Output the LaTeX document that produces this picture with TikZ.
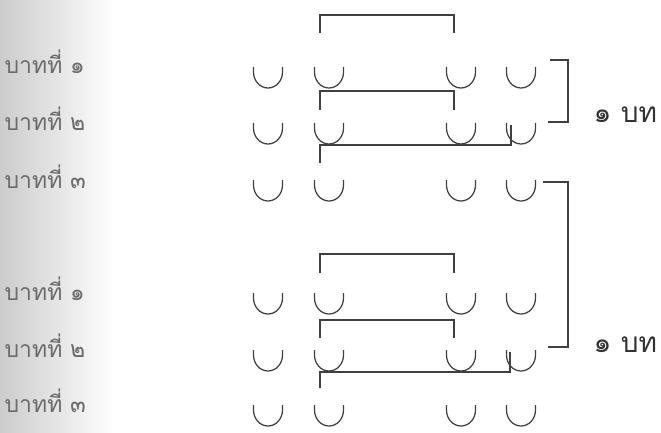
\documentclass[tikz,border=0pt]{standalone}
\usepackage{fontspec}
\newfontfamily\thaifont[Script=Thai]{Loma}
\usetikzlibrary{positioning, calc}

\begin{document}
\begin{tikzpicture}[
                    % one unit = one pixel of the page, y running down
                    x=1pt, y=-1pt,
                    every path/.style={color=black!75, line width=1.25pt},
                    every node/.style={color=black!80},
                    % --- styles for the texts ---
                    rowlabel/.style={font=\thaifont\fontsize{23}{23}\selectfont, inner sep=0pt, anchor=base west, color=black!58},
                    versecount/.style={font=\thaifont\fontsize{28}{28}\selectfont, inner sep=0pt, anchor=base west}
                  ]
  \useasboundingbox (0,0) rectangle (661,433);
  % --- scanned page shadow on the left ---
  \shade[left color=black!20, right color=white, draw=none] (0,0) rectangle (115,433);

  % --- Define dimensions ---
  \def\RadX{14.5pt} % half width of a syllable cup
  \def\RadY{16pt}   % depth of the round part
  \def\Arm{5}       % straight part of the cup

  % --- six lines of four syllables ---
  \foreach \r/\yy in {1/67, 2/123, 3/180, 4/293, 5/350, 6/405} {
    \foreach \k/\xx in {1/268, 2/329, 3/461, 4/521} {
      \coordinate (c\r\k) at (\xx,\yy);
      \draw (c\r\k) ++(-14.5,0) -- ++(0,\Arm) arc[start angle=180, end angle=360, x radius=\RadX, y radius=\RadY] -- ++(0,-\Arm);
    }
  }

  % --- line labels ---
  \node[rowlabel] (l1) at (4,74)  {บาทที่ ๑};
  \node[rowlabel] (l2) at (4,131) {บาทที่ ๒};
  \node[rowlabel] (l3) at (4,188) {บาทที่ ๓};
  \node[rowlabel] (l4) at (4,300) {บาทที่ ๑};
  \node[rowlabel] (l5) at (4,357) {บาทที่ ๒};
  \node[rowlabel] (l6) at (4,412) {บาทที่ ๓};

  % --- rhyme links, first stanza ---
  \draw ($(c12)+(-9,-34)$) |- ($(c13)+(-7,-52)$) -- ++(0,18);
  \draw ($(c22)+(-9,-13)$) |- ($(c23)+(-7,-32)$) -- ++(0,19);
  \draw ($(c22)+(-9,40)$) |- ($(c24)+(-10,22)$) -- ++(0,-20);

  % --- rhyme links, second stanza ---
  \draw ($(c42)+(-9,-20)$) |- ($(c43)+(-7,-39)$) -- ++(0,19);
  \draw ($(c52)+(-9,-12)$) |- ($(c53)+(-7,-30)$) -- ++(0,18);
  \draw ($(c52)+(-9,38)$) |- ($(c54)+(-11,22)$) -- ++(0,-20);

  % --- stanza brackets on the right ---
  \draw ($(c14)+(29,-7)$) -- ++(18,0) |- ($(c24)+(27,-1)$);
  \draw ($(c34)+(22,2)$) -- ++(25,0) |- ($(c54)+(27,-3)$);

  \node[versecount] (b1) at ($(c24)+(72,0)$) {๑ บท};
  \node[versecount] (b2) at ($(c54)+(72,2)$) {๑ บท};

\end{tikzpicture}
\end{document}
